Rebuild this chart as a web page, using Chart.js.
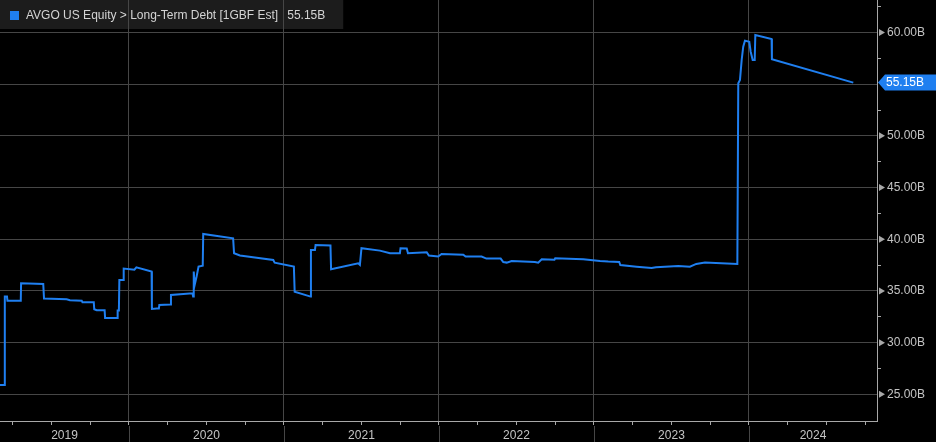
<!DOCTYPE html>
<html><head><meta charset="utf-8">
<script src="https://cdn.jsdelivr.net/npm/chart.js@4.4.1/dist/chart.umd.min.js"></script>
<style>html,body{margin:0;padding:0;background:#000;overflow:hidden}canvas{display:block}</style>
</head><body>
<canvas id="c" width="936" height="442"></canvas>
<script>
const seriesLabel = 'AVGO US Equity > Long-Term Debt [1GBF Est]';
// decimal-year dates
const dates = [
 2019.168,2019.197,2019.199,2019.213,2019.216,2019.302,2019.304,2019.447,2019.452,2019.598,
 2019.619,2019.695,2019.700,2019.773,2019.776,2019.792,2019.843,2019.846,2019.924,2019.927,
 2019.935,2019.938,2019.962,2019.966,2020.035,2020.048,2020.146,2020.148,2020.179,2020.193,
 2020.196,2020.268,2020.271,2020.410,2020.414,2020.418,2020.424,2020.436,2020.449,2020.476,
 2020.479,2020.672,2020.678,2020.716,2020.800,2020.931,2020.940,2021.064,2021.069,2021.172,
 2021.174,2021.200,2021.204,2021.300,2021.304,2021.479,2021.490,2021.500,2021.619,2021.684,
 2021.748,2021.752,2021.792,2021.800,2021.921,2021.935,2021.995,2022.017,2022.157,2022.172,
 2022.275,2022.306,2022.398,2022.415,2022.437,2022.469,2022.619,2022.640,2022.663,2022.745,
 2022.750,2022.931,2023.039,2023.092,2023.163,2023.170,2023.275,2023.372,2023.400,2023.544,
 2023.619,2023.660,2023.716,2023.925,2023.931,2023.942,2023.953,2023.963,2023.974,2024.002,
 2024.011,2024.024,2024.037,2024.041,2024.146,2024.148,2024.673
];
// Long-term debt, billions
const values = [
 25.91,25.91,34.45,34.45,34.06,34.06,35.74,35.68,34.26,34.20,
 34.10,34.06,33.91,33.91,33.23,33.13,33.13,32.39,32.39,33.10,
 33.10,36.06,36.06,37.16,37.05,37.28,36.87,33.26,33.30,33.30,
 33.65,33.70,34.61,34.77,34.45,36.87,35.58,36.38,37.35,37.45,
 40.51,40.09,38.64,38.43,38.25,38.00,37.74,37.35,34.93,34.45,
 38.97,38.97,39.45,39.40,37.10,37.68,37.52,39.13,38.90,38.65,
 38.65,39.13,39.10,38.65,38.75,38.42,38.33,38.58,38.50,38.32,
 38.32,38.13,38.13,37.80,37.74,37.90,37.80,37.74,38.07,38.02,
 38.16,38.07,37.90,37.84,37.80,37.51,37.35,37.22,37.30,37.42,
 37.35,37.61,37.74,37.61,55.09,55.41,57.34,58.63,59.21,59.10,
 58.14,57.34,57.34,59.76,59.37,57.41,55.15
];
const yearLabels = ['2019','2020','2021','2022','2023','2024'];
const yTickValues = [25,27.5,30,32.5,35,37.5,40,42.5,45,47.5,50,52.5,55,57.5,60,62.5];
const xMin = 2019.168, xMax = 2024.826;
const yMin = 22.42, yMax = 63.14;

const FONT = '"Liberation Sans", Arial, sans-serif';
const fmt = v => v.toFixed(2) + 'B';
const key = v => Number(v).toFixed(3);

// x ticks: year boundaries, quarter ticks, label positions (merged, no duplicates)
const kinds = new Map();
const addTick = (v, prop, val) => {
  const k = key(v);
  if (!kinds.has(k)) kinds.set(k, { v: v });
  kinds.get(k)[prop] = val;
};
yearLabels.forEach(ys => {
  const y = +ys;
  [0, 0.25, 0.5, 0.75].forEach(q => {
    const v = y + q;
    if (v > xMin && v < xMax) addTick(v, q === 0 ? 'year' : 'quarter', true);
  });
  const a = Math.max(y, xMin), b = Math.min(y + 1, xMax);
  addTick((a + b) / 2, 'label', ys);
});
const xTickVals = [...kinds.values()].map(o => o.v).sort((a, b) => a - b);
const kindOf = v => kinds.get(key(v)) || {};

const GRID = '#464646';
const AXIS = '#a8a8a8';
const TXT = '#c4c4c4';
const BLUE = '#1f7ff0';
const NONE = 'rgba(0,0,0,0)';

const deco = {
  id: 'deco',
  beforeDraw(chart) {
    const c = chart.ctx;
    c.save();
    c.fillStyle = '#000';
    c.fillRect(0, 0, chart.width, chart.height);
    c.font = '12px ' + FONT;
    const w1 = c.measureText(seriesLabel).width;
    const w2 = c.measureText(fmt(values[values.length - 1])).width;
    c.fillStyle = '#1c1c1c';
    c.fillRect(0, 0, 26 + w1 + 9 + w2 + 18, 29);
    c.restore();
  },
  afterDraw(chart) {
    const c = chart.ctx;
    const xs = chart.scales.x, ys = chart.scales.y;
    c.save();
    // year separators through label area
    c.strokeStyle = GRID; c.lineWidth = 1;
    xTickVals.forEach(v => {
      if (kindOf(v).year) {
        const px = Math.round(xs.getPixelForValue(v)) + 0.5;
        c.beginPath(); c.moveTo(px, xs.top + 5); c.lineTo(px, chart.height); c.stroke();
      }
    });
    // major tick triangles on y axis
    c.fillStyle = AXIS;
    yTickValues.forEach(v => {
      if (v % 5 === 0 && v !== 55) {
        const py = ys.getPixelForValue(v);
        const x0 = ys.left + 2;
        c.beginPath(); c.moveTo(x0, py - 3.5); c.lineTo(x0 + 6, py); c.lineTo(x0, py + 3.5); c.closePath(); c.fill();
      }
    });
    // last value tag
    const last = values[values.length - 1];
    const py = ys.getPixelForValue(last);
    const x0 = ys.left + 1;
    c.fillStyle = BLUE;
    c.beginPath();
    c.moveTo(x0, py); c.lineTo(x0 + 7, py - 8); c.lineTo(chart.width, py - 8);
    c.lineTo(chart.width, py + 8); c.lineTo(x0 + 7, py + 8); c.closePath(); c.fill();
    c.fillStyle = '#ffffff';
    c.font = '12px ' + FONT;
    c.textBaseline = 'middle';
    c.fillText(fmt(last), x0 + 8, py + 0.5);
    // legend
    c.fillStyle = BLUE;
    c.fillRect(10, 11, 9, 9);
    c.fillStyle = '#d4d4d4';
    c.fillText(seriesLabel, 26, 16);
    const w1 = c.measureText(seriesLabel).width;
    c.fillText(fmt(last), 26 + w1 + 9, 16);
    c.restore();
  }
};

new Chart(document.getElementById('c'), {
  type: 'line',
  data: {
    datasets: [{
      label: seriesLabel,
      data: dates.map((d, i) => ({ x: d, y: values[i] })),
      borderColor: BLUE,
      borderWidth: 2,
      pointRadius: 0,
      tension: 0,
      fill: false
    }]
  },
  options: {
    responsive: false,
    animation: false,
    layout: { padding: 0 },
    plugins: { legend: { display: false }, tooltip: { enabled: false } },
    scales: {
      x: {
        type: 'linear', min: xMin, max: xMax,
        afterBuildTicks: s => { s.ticks = xTickVals.map(v => ({ value: v })); },
        afterFit: s => { s.height = 21; s.paddingLeft = 0; s.paddingRight = 0; },
        border: { display: true, color: AXIS, width: 1 },
        grid: {
          color: ctx => (ctx.tick && kindOf(ctx.tick.value).year) ? GRID : NONE,
          tickColor: ctx => {
            const k = ctx.tick ? kindOf(ctx.tick.value) : {};
            return (k.year || k.quarter) ? AXIS : NONE;
          },
          tickLength: 4,
          drawTicks: true
        },
        ticks: {
          autoSkip: false, maxRotation: 0, minRotation: 0, padding: 3,
          color: TXT, font: { family: FONT, size: 12 },
          callback: v => kindOf(v).label || ''
        }
      },
      y: {
        type: 'linear', position: 'right', min: yMin, max: yMax,
        afterBuildTicks: s => { s.ticks = yTickValues.map(v => ({ value: v })); },
        afterFit: s => { s.width = 59; s.paddingTop = 0; s.paddingBottom = 0; },
        border: { display: true, color: AXIS, width: 1 },
        grid: {
          color: ctx => (ctx.tick && ctx.tick.value % 5 === 0) ? GRID : NONE,
          tickColor: ctx => (ctx.tick && ctx.tick.value % 5 !== 0) ? AXIS : NONE,
          tickLength: 4,
          drawTicks: true
        },
        ticks: {
          autoSkip: false, padding: 6,
          color: TXT, font: { family: FONT, size: 12 },
          callback: v => (v % 5 === 0 && v !== 55) ? fmt(v) : ''
        }
      }
    }
  },
  plugins: [deco]
});
</script>
</body></html>
